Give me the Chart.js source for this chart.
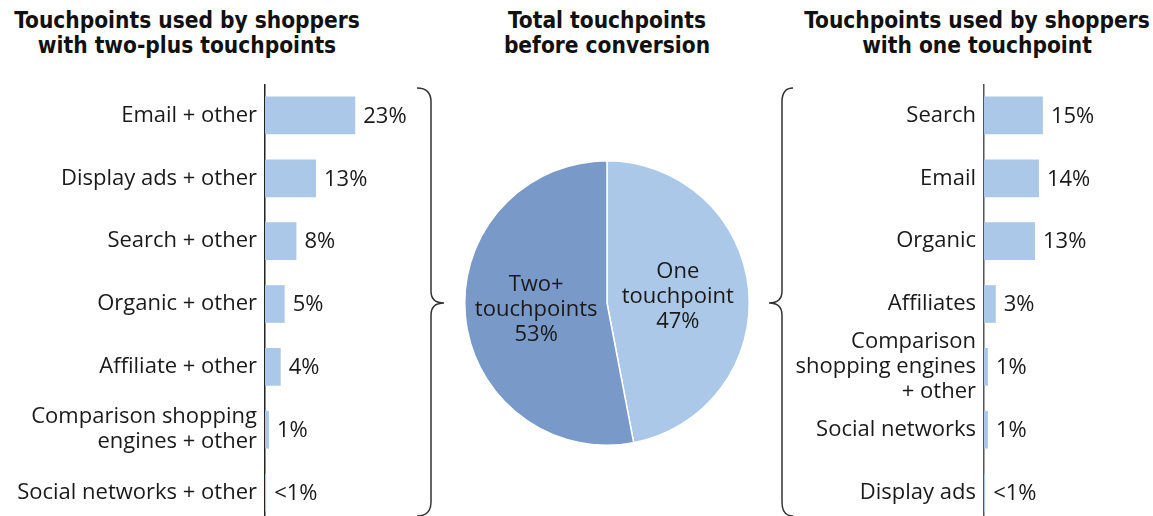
<!DOCTYPE html>
<html>
<head>
<meta charset="utf-8">
<script src="https://cdn.jsdelivr.net/npm/chart.js@4.4.1/dist/chart.umd.min.js"></script>
<style>
  html, body { margin: 0; padding: 0; background: #fff; overflow: hidden; width: 1153px; height: 516px; }
  .title {
    position: absolute; top: 8px; width: 400px;
    font-family: "DejaVu Sans Condensed", "DejaVu Sans", sans-serif;
    font-weight: bold; font-size: 22.5px; line-height: 25px;
    text-align: center; color: #111; white-space: nowrap;
  }
  canvas { position: absolute; }
</style>
</head>
<body>
<div class="title" style="left:-13px">Touchpoints used by shoppers<br>with two-plus touchpoints</div>
<div class="title" style="left:407px">Total touchpoints<br>before conversion</div>
<div class="title" style="left:777px">Touchpoints used by shoppers<br>with one touchpoint</div>

<canvas id="leftChart" width="422" height="440" style="left:0;top:84px"></canvas>
<canvas id="pieChart" width="400" height="516" style="left:400px;top:0"></canvas>
<canvas id="rightChart" width="371" height="440" style="left:770px;top:84px"></canvas>

<script>
// data
const multiLabels = [
  "Email + other",
  "Display ads + other",
  "Search + other",
  "Organic + other",
  "Affiliate + other",
  ["Comparison shopping", "engines + other"],
  "Social networks + other"
]
const multiValues = [23, 13, 8, 5, 4, 1, 0.3]

const totalLabels = ["One touchpoint", "Two+ touchpoints"]
const totalValues = [47, 53]

const singleLabels = [
  "Search",
  "Email",
  "Organic",
  "Affiliates",
  ["Comparison", "shopping engines", "+ other"],
  "Social networks",
  "Display ads"
]
const singleValues = [15, 14, 13, 3, 1, 1, 0.3]

const LIGHT = "#abc8e8"
const DARK = "#7999c9"
const TEXT = "#1a1a1a"
const BODY_FONT = '"Open Sans", "Noto Sans", sans-serif'
const BODY_SIZE = 22

Chart.defaults.font.family = BODY_FONT
Chart.defaults.color = TEXT

// value labels right of each bar
const valueLabels = {
  id: "valueLabels",
  afterDatasetsDraw(chart) {
    const ctx = chart.ctx
    const meta = chart.getDatasetMeta(0)
    const values = chart.data.datasets[0].data
    ctx.save()
    ctx.font = BODY_SIZE + "px " + BODY_FONT
    ctx.fillStyle = TEXT
    ctx.textBaseline = "middle"
    meta.data.forEach((bar, i) => {
      let v = values[i]
      ctx.fillText(v < 1 ? "<1%" : v + "%", bar.x + 8, bar.y + 1)
    })
    ctx.restore()
  }
}

function barChart(id, labels, values, axisWidth, axisColor) {
  return new Chart(document.getElementById(id), {
    type: "bar",
    data: {
      labels: labels,
      datasets: [{
        data: values,
        backgroundColor: LIGHT,
        borderWidth: 0,
        categoryPercentage: 1,
        barPercentage: 0.6
      }]
    },
    options: {
      indexAxis: "y",
      responsive: false,
      animation: false,
      events: [],
      layout: { padding: 0 },
      plugins: { legend: { display: false }, tooltip: { enabled: false } },
      scales: {
        x: { display: false, min: 0, max: 40 },
        y: {
          grid: { display: false, drawTicks: false },
          border: { display: true, color: axisColor, width: 1.5 },
          ticks: {
            autoSkip: false,
            padding: 8,
            color: TEXT,
            font: { size: BODY_SIZE, lineHeight: 25 / BODY_SIZE }
          },
          afterFit: s => {
            s.width = axisWidth
            s.paddingTop = 0
            s.paddingBottom = 0
          }
        }
      }
    },
    plugins: [valueLabels]
  })
}

barChart("leftChart", multiLabels, multiValues, 265, "#222")
barChart("rightChart", singleLabels, singleValues, 214, "#555")

// pie labels + the two braces
const pieDecor = {
  id: "pieDecor",
  afterDraw(chart) {
    const ctx = chart.ctx
    const meta = chart.getDatasetMeta(0)
    ctx.save()
    ctx.font = BODY_SIZE + "px " + BODY_FONT
    ctx.fillStyle = TEXT
    ctx.textAlign = "center"
    ctx.textBaseline = "middle"
    meta.data.forEach((arc, i) => {
      const p = arc.tooltipPosition()
      const lines = totalLabels[i].split(" ").concat(totalValues[i] + "%")
      lines.forEach((line, j) => {
        ctx.fillText(line, p.x, p.y + (j - 1) * 25)
      })
    })

    // braces (canvas starts at x=400 on the page)
    ctx.strokeStyle = "#333"
    ctx.lineWidth = 1.5
    ctx.beginPath()
    ctx.moveTo(17, 88)
    ctx.quadraticCurveTo(31, 88, 31, 102)
    ctx.lineTo(31, 291)
    ctx.quadraticCurveTo(31, 303, 44, 303)
    ctx.quadraticCurveTo(31, 303, 31, 315)
    ctx.lineTo(31, 502)
    ctx.quadraticCurveTo(31, 516, 17, 516)
    ctx.stroke()

    ctx.beginPath()
    ctx.moveTo(393, 88)
    ctx.quadraticCurveTo(382, 88, 382, 102)
    ctx.lineTo(382, 291)
    ctx.quadraticCurveTo(382, 303, 369, 303)
    ctx.quadraticCurveTo(382, 303, 382, 315)
    ctx.lineTo(382, 502)
    ctx.quadraticCurveTo(382, 516, 393, 516)
    ctx.stroke()
    ctx.restore()
  }
}

new Chart(document.getElementById("pieChart"), {
  type: "pie",
  data: {
    labels: totalLabels,
    datasets: [{
      data: totalValues,
      backgroundColor: [LIGHT, DARK],
      borderColor: "#fff",
      borderWidth: 1.5
    }]
  },
  options: {
    responsive: false,
    animation: false,
    events: [],
    layout: { padding: { left: 64, right: 50, top: 160, bottom: 70 } },
    plugins: { legend: { display: false }, tooltip: { enabled: false } }
  },
  plugins: [pieDecor]
})
</script>
</body>
</html>
